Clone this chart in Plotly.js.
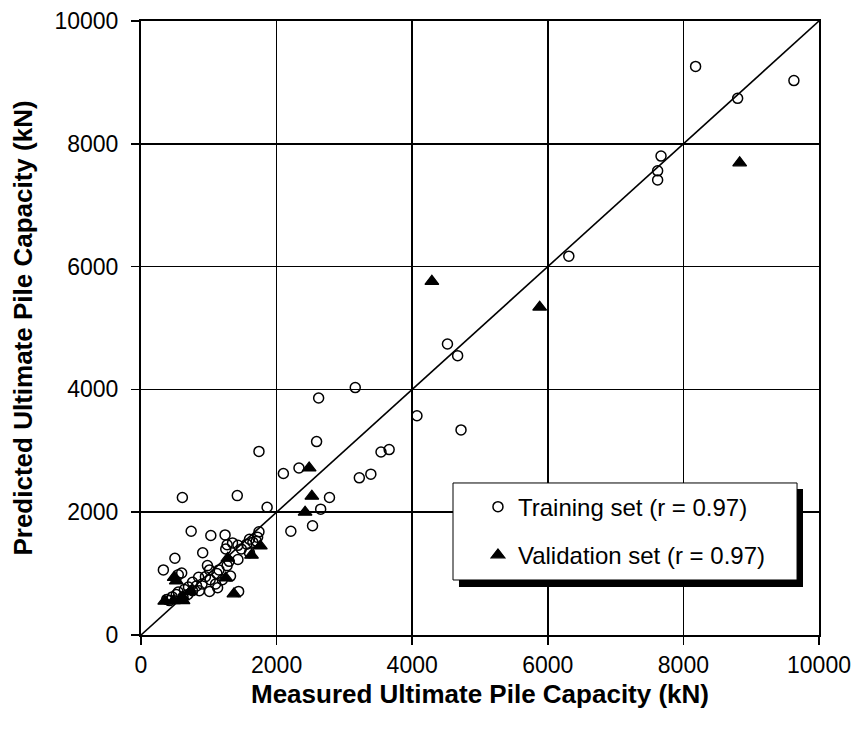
<!DOCTYPE html>
<html>
<head>
<meta charset="utf-8">
<script src="https://cdn.plot.ly/plotly-3.0.1.min.js"></script>
<style>html,body{margin:0;padding:0;background:#fff;}#chart{width:859px;height:735px;}</style>
</head>
<body>
<div id="chart"></div>
<script>
// Training set: measured (x) vs predicted (y), kN
const trainMeasured = [8180,9630,8800,7670,7620,7620,6310,4520,4670,4070,4720,3160,2620,2590,1740,3540,3660,2330,2100,3220,3390,1420,2780,1860,2650,2210,2530,610,
  740,1030,1240,1740,1700,1270,1430,1560,1650,1720,1250,910,1430,1270,980,1010,1320,1120,1200,1020,760,1130,1010,1440,690,500,330,600,550,640,820,900,700,550,460,380,620,860,950,1150,1300,1600,1480,760,520,1100,1350,1600,850,420];
const trainPredicted = [9260,9030,8740,7800,7560,7410,6170,4740,4550,3570,3340,4030,3860,3150,2990,2980,3020,2720,2630,2560,2620,2270,2240,2080,2050,1690,1780,2240,
  1690,1620,1630,1680,1530,1470,1460,1480,1510,1590,1400,1340,1230,1130,1130,1060,960,1000,900,900,860,770,710,710,660,1250,1060,1010,980,740,800,830,780,700,620,580,620,720,950,1060,1200,1340,1400,720,660,830,1500,1560,940,560];
// Validation set
const valMeasured = [350,480,620,610,730,490,520,1250,1280,1370,1630,1760,2420,2480,2520,4290,5880,8830];
const valPredicted = [550,560,560,620,710,940,880,930,1250,670,1300,1450,2000,2720,2260,5760,5340,7690];
// 1:1 line
const lineX = [0,10000];
const lineY = [0,10000];
const tickVals = [0,2000,4000,6000,8000,10000];
const tickText = ['0','2000','4000','6000','8000','10000'];

const FONT = 'Liberation Sans, Arial, sans-serif';

const traces = [
  {x: lineX, y: lineY, mode: 'lines', line: {color: '#000', width: 1.6}, showlegend: false, hoverinfo: 'skip'},
  {x: trainMeasured, y: trainPredicted, mode: 'markers', name: 'Training set (r = 0.97)', legendgroup: 'a',
   marker: {symbol: 'circle-open', size: 10, color: '#000', line: {color: '#000', width: 1.5}}},
  {x: valMeasured, y: valPredicted, mode: 'markers', name: 'Validation set (r = 0.97)', legendgroup: 'b',
   marker: {symbol: 'triangle-up', size: 12, color: '#000', line: {color: '#000', width: 1.2}}}
];

const axisCommon = {
  range: [0, 10000], tickvals: tickVals, ticktext: tickText,
  showgrid: true, gridcolor: '#000', gridwidth: 1.5,
  showline: true, linecolor: '#000', linewidth: 2, mirror: true,
  ticks: 'outside', ticklen: 8, tickwidth: 1.5, tickcolor: '#000',
  zeroline: false, automargin: false,
  tickfont: {family: FONT, size: 23, color: '#000'}
};

const layout = {
  width: 859, height: 735,
  margin: {l: 141, r: 40, t: 21, b: 100},
  paper_bgcolor: '#fff', plot_bgcolor: '#fff',
  showlegend: true,
  xaxis: Object.assign({}, axisCommon, {
    title: {text: 'Measured Ultimate Pile Capacity (kN)', font: {family: FONT, size: 26, color: '#000', weight: 'bold'}, standoff: 8}
  }),
  yaxis: Object.assign({}, axisCommon, {
    ticklabelstandoff: 8,
    title: {text: 'Predicted Ultimate Pile Capacity (kN)', font: {family: FONT, size: 26, color: '#000', weight: 'bold'}, standoff: 14}
  }),
  legend: {
    x: 0.497, y: 0.245, xanchor: 'left', yanchor: 'top',
    bgcolor: 'rgba(0,0,0,0)', borderwidth: 0,
    font: {family: FONT, size: 24, color: '#000'},
    tracegroupgap: 14, itemwidth: 30
  },
  shapes: [
    {type: 'rect', xref: 'paper', yref: 'paper', x0: 0.469, x1: 0.9764, y0: 0.0782, y1: 0.2378,
     fillcolor: '#000', line: {width: 0}, layer: 'above'},
    {type: 'rect', xref: 'paper', yref: 'paper', x0: 0.4602, x1: 0.9676, y0: 0.0896, y1: 0.2476,
     fillcolor: '#fff', line: {color: '#000', width: 1}, layer: 'above'}
  ]
};

Plotly.newPlot('chart', traces, layout, {displayModeBar: false, staticPlot: true});
</script>
</body>
</html>
